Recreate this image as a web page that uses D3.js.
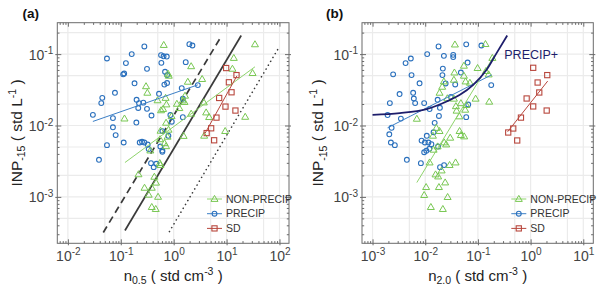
<!DOCTYPE html>
<html>
<head>
<meta charset="utf-8">
<script src="https://cdnjs.cloudflare.com/ajax/libs/d3/7.8.5/d3.min.js"></script>
<style>
  body { margin: 0; background: #fff; }
  text { font-family: "Liberation Sans", Arial, Helvetica, sans-serif; }
</style>
</head>
<body>
<div id="chart"></div>
<script>
// ---- data ----
// panel (a): n0.5 vs INP-15
var precipA = [[0.279,0.128],[0.0548,0.0868],[0.161,0.100],[0.125,0.0748],[0.577,0.0968],[0.644,0.0932],
  [0.740,0.0925],[0.585,0.0755],[0.313,0.0622],[0.111,0.0521],[0.116,0.0535],[0.687,0.0565],[0.750,0.0508],
  [0.182,0.039],[0.667,0.0374],[0.750,0.0393],[0.0776,0.0287],[0.0447,0.0244],[0.0428,0.0206],[0.528,0.0278],
  [0.199,0.0229],[0.221,0.0206],[0.214,0.0176],[0.267,0.0209],[0.313,0.0171],[0.0297,0.0141],[0.0711,0.0127],
  [0.197,0.0110],[0.381,0.0138],[0.866,0.0140],[0.920,0.0113],[0.0711,0.00944],[0.611,0.00835],[1.49,0.0237],
  [1.49,0.0131],[1.69,0.0772],[1.98,0.138],[2.26,0.132],[1.42,0.0334],[2.86,0.0368],[0.080,0.00734],
  [0.0548,0.00531],[0.1135,0.00578],[0.0387,0.00331],[0.228,0.00578],[0.252,0.00592],[0.279,0.00578],
  [0.323,0.00542],[0.337,0.00467],[0.794,0.00718],[0.560,0.00508],[0.611,0.00446],[0.611,0.00428],
  [0.373,0.00297],[0.419,0.00261],[0.470,0.00291]]
var nonPrecipA = [[0.649,0.134],[2.14,0.0675],[34.4,0.137],[13.7,0.0882],[12.9,0.0622],[31.0,0.0542],
  [3.45,0.0447],[1.85,0.0409],[0.300,0.0354],[0.318,0.0287],[0.783,0.0530],[0.807,0.0497],[0.703,0.0243],
  [0.728,0.0197],[1.64,0.0261],[0.496,0.0225],[0.577,0.0163],[0.630,0.0170],[1.15,0.0201],[1.49,0.0224],
  [1.60,0.0213],[1.28,0.0175],[0.912,0.0135],[2.14,0.0146],[3.72,0.0210],[4.11,0.0152],[4.68,0.0131],
  [22.5,0.0132],[0.1175,0.0125],[0.718,0.0109],[0.800,0.00871],[1.54,0.00713],[3.77,0.00718],[9.40,0.00835],
  [0.565,0.00843],[0.766,0.00695],[0.552,0.00641],[0.672,0.00564],[0.718,0.00512],[0.362,0.00446],
  [0.546,0.00297],[0.560,0.00279],[0.216,0.00207],[0.431,0.00191],[0.464,0.00158],[0.281,0.00134],
  [0.385,0.00134],[0.337,0.00107],[0.507,0.00100],[0.385,0.00072],[0.458,0.000675]]
var sdA = [[9.82,0.0638],[15.4,0.0508],[11.06,0.0403],[12.4,0.0292],[7.24,0.0243],[9.53,0.0184],
  [14.7,0.0162],[6.44,0.0129],[5.11,0.00914],[4.20,0.00783],[5.82,0.00621]]

var fitPrecipA = [[0.0297,0.0114],[2.86,0.0371]]
var fitNonPrecipA = [[0.120,0.00303],[34.4,0.0664]]
var fitSdA = [[3.94,0.00783],[15.7,0.0497]]
var refSolidA = [[0.120,0.000338],[18.9,0.1824]]
var refDashedA = [[0.0467,0.000317],[7.57,0.1675]]
var refDottedA = [[0.830,0.000327],[100,0.1277]]

// panel (b): n2.0 vs INP-15
var precipB = [[0.0179,0.128],[0.0600,0.137],[0.0109,0.100],[0.00424,0.0748],[0.00533,0.0868],[0.0226,0.0946],
  [0.0340,0.0977],[0.0340,0.0908],[0.0637,0.0762],[0.00246,0.0521],[0.00550,0.0508],[0.0216,0.0627],
  [0.0212,0.0508],[0.0475,0.0552],[0.00781,0.0390],[0.0244,0.0388],[0.0371,0.0375],[0.00326,0.0276],
  [0.00590,0.0287],[0.00608,0.0239],[0.00644,0.0206],[0.0307,0.0252],[0.00213,0.0206],[0.00955,0.0206],
  [0.0172,0.0229],[0.0121,0.0170],[0.0190,0.0177],[0.00193,0.0140],[0.00345,0.0125],[0.0182,0.0136],
  [0.0600,0.0131],[0.0655,0.0197],[0.0151,0.0109],[0.00230,0.00929],[0.0144,0.00804],[0.00208,0.00753],
  [0.1165,0.132],[0.179,0.0368],[0.00223,0.00578],[0.00265,0.00531],[0.00448,0.00331],[0.00853,0.00615],
  [0.00985,0.00578],[0.0115,0.00578],[0.0131,0.00548],[0.0107,0.00718],[0.00955,0.00422],[0.0105,0.00443],
  [0.0120,0.00472],[0.0175,0.00508],[0.00827,0.00297],[0.0191,0.00261],[0.0228,0.00279]]
var nonPrecipB = [[0.0366,0.136],[0.139,0.138],[0.188,0.0882],[0.0542,0.0686],[0.0358,0.0551],[0.0350,0.0436],
  [0.0542,0.0497],[0.0584,0.0413],[0.0986,0.0637],[0.142,0.0578],[0.160,0.0518],[0.0226,0.0413],
  [0.0210,0.0348],[0.0187,0.0287],[0.0263,0.0240],[0.0350,0.0237],[0.0475,0.0205],[0.0904,0.0237],
  [0.164,0.0215],[0.0382,0.0186],[0.0394,0.0161],[0.0445,0.0134],[0.0605,0.0193],[0.0574,0.0166],
  [0.00693,0.0124],[0.0163,0.00923],[0.0187,0.00835],[0.0449,0.00835],[0.0475,0.00734],[0.0549,0.00702],
  [0.0140,0.00718],[0.0298,0.00673],[0.0229,0.00578],[0.0250,0.00542],[0.0144,0.00457],[0.0172,0.00508],
  [0.0121,0.00303],[0.0205,0.00234],[0.0290,0.00279],[0.0377,0.00303],[0.0157,0.00206],[0.0176,0.00193],
  [0.0239,0.00159],[0.0104,0.00137],[0.0182,0.00137],[0.00955,0.00106],[0.0266,0.000993],[0.0128,0.00072],
  [0.0216,0.000675],[0.0705,0.0396]]
var sdB = [[1.12,0.0643],[2.07,0.0508],[1.36,0.0400],[1.46,0.0290],[0.841,0.0239],[1.12,0.0185],
  [2.02,0.0162],[0.656,0.0129],[0.468,0.00908],[0.376,0.00798],[0.557,0.00617]]

var fitPrecipB = [[0.00193,0.00929],[0.182,0.0513]]
var fitNonPrecipB = [[0.00693,0.00159],[0.1955,0.0908]]
var fitSdB = [[0.366,0.00817],[2.11,0.0419]]
var precipPlus = [[0.001,0.0141],[0.0033,0.0149],[0.0106,0.0170],[0.0255,0.0217],[0.0455,0.0269],
  [0.0814,0.0371],[0.146,0.0603],[0.226,0.1033],[0.360,0.1824]]

var xTicksA = [-2, -1, 0, 1, 2]
var xTicksB = [-3, -2, -1, 0, 1]
var yTicks = [-3, -2, -1]
var legendNames = ['NON-PRECIP', 'PRECIP', 'SD']

// ---- style ----
var colors = { non: '#78c752', precip: '#2a70bd', sd: '#b8473d', navy: '#1d1d6b', ref: '#3a3a3a' }
var fitColors = { non: '#8fd46c', precip: '#3c7fc6', sd: '#b8473d' }
var W = 600, H = 292
var yDomain = [Math.pow(10, -3.65), Math.pow(10, -0.56)]
var plotTop = 22.7, plotBottom = 243.3

var svg = d3.select('#chart').append('svg')
  .attr('width', W).attr('height', H)

function marker (sel, type, color) {
  if (type === 'precip') {
    sel.append('circle').attr('r', 2.4)
      .attr('fill', 'none').attr('stroke', color).attr('stroke-width', 1.1)
  } else if (type === 'non') {
    sel.append('path').attr('d', 'M0,-3.6L3.5,2.4L-3.5,2.4Z')
      .attr('fill', 'none').attr('stroke', color).attr('stroke-width', 1)
  } else {
    sel.append('rect').attr('x', -2.6).attr('y', -2.6).attr('width', 5.2).attr('height', 5.2)
      .attr('fill', 'none').attr('stroke', color).attr('stroke-width', 1.1)
  }
}

function supLabel (textSel, exp, size) {
  textSel.text('')
  textSel.append('tspan').text('10')
  textSel.append('tspan').attr('dy', -5.5).attr('font-size', size * 0.72).text(exp)
}

function drawPanel (cfg) {
  var g = svg.append('g')
  var x = d3.scaleLog().domain(cfg.xDomain).range([cfg.left, cfg.right])
  var y = d3.scaleLog().domain(yDomain).range([plotBottom, plotTop])

  // minor / major tick values
  function logValues (scale, mults) {
    var d = scale.domain(), out = []
    for (var k = Math.floor(Math.log10(d[0])); k <= Math.ceil(Math.log10(d[1])); k++) {
      mults.forEach(function (m) {
        var v = m * Math.pow(10, k)
        if (v >= d[0] && v <= d[1]) out.push(v)
      })
    }
    return out
  }

  // grid
  g.append('g').selectAll('line').data(logValues(x, [1, 5])).enter().append('line')
    .attr('x1', function (d) { return x(d) }).attr('x2', function (d) { return x(d) })
    .attr('y1', plotTop).attr('y2', plotBottom)
    .attr('stroke', '#ebebeb').attr('stroke-width', 1.2)
  g.append('g').selectAll('line').data(logValues(y, [1, 2, 5])).enter().append('line')
    .attr('y1', function (d) { return y(d) }).attr('y2', function (d) { return y(d) })
    .attr('x1', cfg.left).attr('x2', cfg.right)
    .attr('stroke', '#ebebeb').attr('stroke-width', 1.2)

  var line = d3.line().x(function (d) { return x(d[0]) }).y(function (d) { return y(d[1]) })

  // reference lines
  ;(cfg.refs || []).forEach(function (r) {
    g.append('path').attr('d', line(r.data)).attr('fill', 'none')
      .attr('stroke', colors.ref).attr('stroke-width', r.dotted ? 1.6 : 1.7)
      .attr('stroke-dasharray', r.dash).attr('stroke-linecap', r.dotted ? 'round' : 'butt')
  })

  // points
  var series = [
    { key: 'precip', data: cfg.precip },
    { key: 'non', data: cfg.non },
    { key: 'sd', data: cfg.sd }
  ]
  series.forEach(function (s) {
    g.append('g').selectAll('g').data(s.data).enter().append('g')
      .attr('transform', function (d) { return 'translate(' + x(d[0]) + ',' + y(d[1]) + ')' })
      .each(function () { marker(d3.select(this), s.key, colors[s.key]) })
  })

  // fit lines
  cfg.fits.forEach(function (f) {
    g.append('path').attr('d', line(f.data)).attr('fill', 'none')
      .attr('stroke', fitColors[f.key]).attr('stroke-width', 1)
  })

  if (cfg.curve) {
    var curveLine = d3.line().curve(d3.curveMonotoneX)
      .x(function (d) { return x(d[0]) }).y(function (d) { return y(d[1]) })
    g.append('path').attr('d', curveLine(cfg.curve)).attr('fill', 'none')
      .attr('stroke', colors.navy).attr('stroke-width', 1.8)
    g.append('text').attr('x', x(0.29) + 2).attr('y', 58.5)
      .attr('font-size', 12.5).attr('fill', colors.navy).text('PRECIP+')
  }

  // axes (ticks crossing the frame)
  var majX = cfg.xTicks.map(function (e) { return Math.pow(10, e) })
  var majY = yTicks.map(function (e) { return Math.pow(10, e) })
  var minX = logValues(x, [2, 3, 4, 5, 6, 7, 8, 9])
  var minY = logValues(y, [2, 3, 4, 5, 6, 7, 8, 9])
  var axisColor = '#6b6b6b'

  function styleAxis (a) {
    a.select('.domain').remove()
    a.selectAll('line').attr('stroke', axisColor)
  }

  var bx = g.append('g').attr('transform', 'translate(0,' + plotBottom + ')')
    .call(d3.axisBottom(x).tickValues(majX).tickSizeInner(-4).tickSizeOuter(0))
  bx.selectAll('.tick line').attr('y1', 2)
  bx.selectAll('.tick text').attr('y', 17.5).attr('dy', 0)
    .attr('font-size', 14).attr('fill', '#444').attr('font-family', null)
    .each(function (d) { supLabel(d3.select(this), Math.round(Math.log10(d)), 14) })
  styleAxis(bx)
  var bxm = g.append('g').attr('transform', 'translate(0,' + plotBottom + ')')
    .call(d3.axisBottom(x).tickValues(minX).tickFormat('').tickSizeInner(-2.2).tickSizeOuter(0))
  styleAxis(bxm)
  var tx = g.append('g').attr('transform', 'translate(0,' + plotTop + ')')
    .call(d3.axisTop(x).tickValues(majX).tickFormat('').tickSizeInner(-4).tickSizeOuter(0))
  styleAxis(tx)
  var txm = g.append('g').attr('transform', 'translate(0,' + plotTop + ')')
    .call(d3.axisTop(x).tickValues(minX).tickFormat('').tickSizeInner(-2.2).tickSizeOuter(0))
  styleAxis(txm)

  var ly = g.append('g').attr('transform', 'translate(' + cfg.left + ',0)')
    .call(d3.axisLeft(y).tickValues(majY).tickSizeInner(-4).tickSizeOuter(0))
  ly.selectAll('.tick line').attr('x1', -2)
  ly.selectAll('.tick text').attr('x', -4).attr('dy', '0.36em')
    .attr('font-size', 14).attr('fill', '#444').attr('font-family', null)
    .each(function (d) { supLabel(d3.select(this), Math.round(Math.log10(d)), 14) })
  styleAxis(ly)
  var lym = g.append('g').attr('transform', 'translate(' + cfg.left + ',0)')
    .call(d3.axisLeft(y).tickValues(minY).tickFormat('').tickSizeInner(-2.2).tickSizeOuter(0))
  styleAxis(lym)
  var ry = g.append('g').attr('transform', 'translate(' + cfg.right + ',0)')
    .call(d3.axisRight(y).tickValues(majY).tickFormat('').tickSizeInner(-4).tickSizeOuter(0))
  ry.selectAll('.tick line').attr('x1', 2)
  styleAxis(ry)
  var rym = g.append('g').attr('transform', 'translate(' + cfg.right + ',0)')
    .call(d3.axisRight(y).tickValues(minY).tickFormat('').tickSizeInner(-2.2).tickSizeOuter(0))
  styleAxis(rym)

  // frame
  g.append('rect').attr('x', cfg.left).attr('y', plotTop)
    .attr('width', cfg.right - cfg.left).attr('height', plotBottom - plotTop)
    .attr('fill', 'none').attr('stroke', axisColor).attr('stroke-width', 1)

  // axis titles
  var xt = g.append('text').attr('x', (cfg.left + cfg.right) / 2).attr('y', 280.5)
    .attr('text-anchor', 'middle').attr('font-size', 15).attr('fill', '#222')
  xt.append('tspan').text('n')
  xt.append('tspan').attr('dy', 3.5).attr('font-size', 10.5).text(cfg.sub)
  xt.append('tspan').attr('dy', -3.5).text(' ( std cm')
  xt.append('tspan').attr('dy', -6).attr('font-size', 10.5).text('-3')
  xt.append('tspan').attr('dy', 6).text(' )')

  var yt = g.append('text').attr('transform', 'translate(' + cfg.yTitleX + ',133) rotate(-90)')
    .attr('text-anchor', 'middle').attr('font-size', 15.5).attr('fill', '#222')
  yt.append('tspan').text('INP')
  yt.append('tspan').attr('dy', 3.5).attr('font-size', 10.5).text('-15')
  yt.append('tspan').attr('dy', -3.5).text(' ( std L')
  yt.append('tspan').attr('dy', -6).attr('font-size', 10.5).text('-1')
  yt.append('tspan').attr('dy', 6).text(' )')

  // panel tag
  g.append('text').attr('x', cfg.tagX).attr('y', 17.5)
    .attr('font-size', 13.5).attr('font-weight', 'bold').attr('fill', '#111').text(cfg.tag)

  // legend
  var keys = ['non', 'precip', 'sd']
  var lg = g.append('g').selectAll('g').data(keys).enter().append('g')
    .attr('transform', function (d, i) { return 'translate(' + (cfg.right - 82) + ',' + (199 + i * 14.7) + ')' })
  lg.append('line').attr('x1', 0).attr('x2', 15)
    .attr('stroke', function (d) { return fitColors[d] }).attr('stroke-width', 1)
  lg.append('g').attr('transform', 'translate(7.5,0)')
    .each(function (d) { marker(d3.select(this), d, colors[d]) })
  lg.append('text').attr('x', 19).attr('dy', '0.35em')
    .attr('font-size', 10.5).attr('fill', '#333')
    .text(function (d, i) { return legendNames[i] })
}

drawPanel({
  left: 57.3, right: 289, xDomain: [Math.pow(10, -2.2), Math.pow(10, 2.18)], xTicks: xTicksA,
  precip: precipA, non: nonPrecipA, sd: sdA,
  fits: [{ key: 'precip', data: fitPrecipA }, { key: 'non', data: fitNonPrecipA }, { key: 'sd', data: fitSdA }],
  refs: [{ data: refSolidA, dash: null }, { data: refDashedA, dash: '7,4.5' }, { data: refDottedA, dash: '0.1,4.4', dotted: true }],
  sub: '0.5', yTitleX: 21.5, tag: '(a)', tagX: 22.5
})

drawPanel({
  left: 362, right: 593.3, xDomain: [Math.pow(10, -3.2), Math.pow(10, 1.19)], xTicks: xTicksB,
  precip: precipB, non: nonPrecipB, sd: sdB,
  fits: [{ key: 'precip', data: fitPrecipB }, { key: 'non', data: fitNonPrecipB }, { key: 'sd', data: fitSdB }],
  curve: precipPlus,
  sub: '2.0', yTitleX: 323, tag: '(b)', tagX: 326
})
</script>
</body>
</html>
